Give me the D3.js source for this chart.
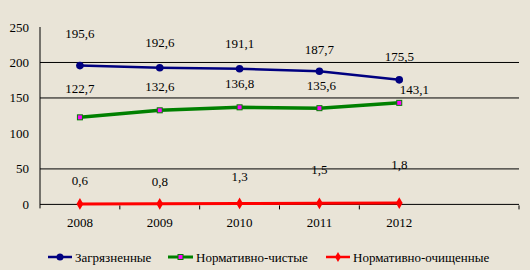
<!DOCTYPE html>
<html><head><meta charset="utf-8">
<script src="https://cdn.jsdelivr.net/npm/d3@7"></script>
<style>
html,body{margin:0;padding:0;background:#e9e4d7;}
svg{display:block;}
text{font-family:"Liberation Serif","DejaVu Serif","Times New Roman",serif;fill:#000;}
</style></head>
<body><svg id="c" width="530" height="270"></svg>
<script>
const years = ["2008","2009","2010","2011","2012"];
const polluted = [195.6,192.6,191.1,187.7,175.5];
const clean = [122.7,132.6,136.8,135.6,143.1];
const treated = [0.6,0.8,1.3,1.5,1.8];
const seriesNames = ["Загрязненные","Нормативно-чистые","Нормативно-очищенные"];
const yTicks = [0,50,100,150,200,250];
const gridTicks = [50,150,200];
// label vertical offsets (px, relative to the point)
const blueDy = [-32,-25,-25,-22,-23];
const greenDy = [-29,-24,-24,-23,-13];
const greenDx = [0,0,0,2,15];
const redDy = [-23,-22,-27,-34,-39];

const FONT = "'Liberation Serif','DejaVu Serif','Times New Roman',serif";
const FS = 13;
const svg = d3.select("#c");
const L=40, R=519, T=27, B=204.4;
const x = d3.scaleBand().domain([...years,"_"]).range([L,R]);
const y = d3.scaleLinear().domain([0,250]).range([B,T]);
const cx = d => x(d)+x.bandwidth()/2;

// grid lines
svg.append("g").selectAll("line").data(gridTicks).join("line")
  .attr("x1",L).attr("x2",R).attr("y1",d=>y(d)).attr("y2",d=>y(d))
  .attr("stroke","#000").attr("stroke-width",1);
svg.append("line").attr("x1",L).attr("x2",R).attr("y1",y(0)).attr("y2",y(0)).attr("stroke","#000");
// y axis
svg.append("line").attr("x1",L).attr("x2",L).attr("y1",T).attr("y2",B+4).attr("stroke","#000");
svg.append("g").selectAll("text").data(yTicks).join("text")
  .attr("x",29).attr("y",d=>y(d)+4.5).attr("text-anchor","end").attr("font-family",FONT)
  .attr("font-size",FS).text(d=>d);
// x ticks
const tickPos = [x("2009"),x("2010"),x("2011"),x("2012"),R];
svg.append("g").selectAll("line").data(tickPos).join("line")
  .attr("x1",d=>d).attr("x2",d=>d).attr("y1",B+1).attr("y2",B+5).attr("stroke","#000");
svg.append("g").selectAll("text").data(years).join("text")
  .attr("x",d=>cx(d)).attr("y",226.5).attr("text-anchor","middle").attr("font-family",FONT).attr("font-size",FS).text(d=>d);

const line = d3.line().x((d,i)=>cx(years[i])).y(d=>y(d));
const fmt = v => String(v).replace(".",",");

// blue
svg.append("path").datum(polluted).attr("d",line).attr("fill","none").attr("stroke","#000080").attr("stroke-width",2.5);
svg.append("g").selectAll("circle").data(polluted).join("circle")
  .attr("cx",(d,i)=>cx(years[i])).attr("cy",d=>y(d)).attr("r",3.8).attr("fill","#000080");
// green
svg.append("path").datum(clean).attr("d",line).attr("fill","none").attr("stroke","#008000").attr("stroke-width",3.5);
svg.append("g").selectAll("rect").data(clean).join("rect")
  .attr("x",(d,i)=>cx(years[i])-2.5).attr("y",d=>y(d)-2.5).attr("width",5).attr("height",5)
  .attr("fill","#ff00ff").attr("stroke","#008000").attr("stroke-width",1);
// red
svg.append("path").datum(treated).attr("d",line).attr("fill","none").attr("stroke","#ff0000").attr("stroke-width",3);
svg.append("g").selectAll("path.dm").data(treated).join("path").attr("class","dm")
  .attr("d",d3.symbol(d3.symbolDiamond,40))
  .attr("transform",(d,i)=>`translate(${cx(years[i])},${y(d)})`).attr("fill","#ff0000");

// labels
const lab = (data,dy,dx) => svg.append("g").selectAll("text").data(data).join("text")
  .attr("x",(d,i)=>cx(years[i])+(dx?dx[i]:0)).attr("y",(d,i)=>y(d)+dy[i]+4.5)
  .attr("text-anchor","middle").attr("font-family",FONT).attr("font-size",FS).text(fmt);
lab(polluted,blueDy);
lab(clean,greenDy,greenDx);
lab(treated,redDy);

// legend
const leg = [{c:"#000080",m:"circle",x:48,w:24},{c:"#008000",m:"square",x:168,w:25},{c:"#ff0000",m:"diamond",x:326,w:24}];
const ly = 257;
leg.forEach((o,i)=>{
  const g = svg.append("g");
  g.append("line").attr("x1",o.x).attr("x2",o.x+o.w).attr("y1",ly).attr("y2",ly).attr("stroke",o.c).attr("stroke-width",i==1?3:2.5);
  const mx = o.x+o.w/2;
  if(o.m=="circle") g.append("circle").attr("cx",mx).attr("cy",ly).attr("r",3.5).attr("fill",o.c);
  else if(o.m=="square") g.append("rect").attr("x",mx-2.5).attr("y",ly-2.5).attr("width",5).attr("height",5).attr("fill","#ff00ff").attr("stroke",o.c);
  else g.append("path").attr("d",d3.symbol(d3.symbolDiamond,30)).attr("transform",`translate(${mx},${ly})`).attr("fill",o.c);
  g.append("text").attr("x",o.x+o.w+3).attr("y",ly+4.5).attr("font-family",FONT).attr("font-size",FS).text(seriesNames[i]);
});
</script></body></html>
